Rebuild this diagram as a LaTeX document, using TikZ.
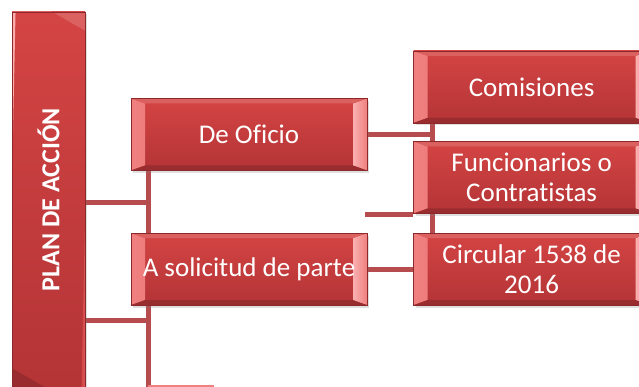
\documentclass[tikz,border=0pt]{standalone}
\usepackage{fontspec}
\setmainfont[Ligatures=NoCommon]{Carlito}
\usetikzlibrary{positioning, calc, shadows, backgrounds}

\definecolor{facetop}{RGB}{212,68,68}
\definecolor{facebottom}{RGB}{180,52,54}
\definecolor{slabedge}{RGB}{140,40,42}
\definecolor{bevlit}{RGB}{240,128,128}
\definecolor{bevglow}{RGB}{250,176,176}
\definecolor{linkred}{RGB}{183,76,78}

\begin{document}
\begin{tikzpicture}[x=1pt, y=-1pt,
    lit bevel/.style = {left color=bevlit, right color=facetop},
    glow bevel/.style = {left color=bevglow, right color=bevlit},
    slab/.style 2 args = {draw=slabedge, line width=0.6pt,
      top color=facetop, bottom color=facebottom,
      minimum width=236pt, minimum height=72pt, inner sep=0pt,
      align=center, text=white, font=\fontsize{27}{30}\selectfont,
      drop shadow={opacity=0.25, shadow xshift=2pt, shadow yshift=-2.5pt},
      path picture={
        \shade[lit bevel]
          (path picture bounding box.north west) -- ++(#1,-#2)
          -- ($(path picture bounding box.south west)+(#1,#2)$)
          -- (path picture bounding box.south west) -- cycle;
        \shade[glow bevel]
          (path picture bounding box.north east) -- ++(-#1,-#2)
          -- ($(path picture bounding box.south east)+(-#1,#2)$)
          -- (path picture bounding box.south east) -- cycle;
        \fill[facetop!85!white]
          (path picture bounding box.north west) -- (path picture bounding box.north east)
          -- ++(-#1,-#2) -- ($(path picture bounding box.north west)+(#1,-#2)$) -- cycle;
        \fill[facebottom!85!black]
          (path picture bounding box.south west) -- (path picture bounding box.south east)
          -- ++(-#1,#2) -- ($(path picture bounding box.south west)+(#1,#2)$) -- cycle;
      }},
    link/.style = {draw=linkred, line width=5pt},
    faint link/.style = {draw=bevlit, line width=1.5pt}
  ]
  \useasboundingbox (0,0) rectangle (639,387);

  \node[slab={21pt}{4pt}, minimum width=375pt, minimum height=73pt, rotate=90,
        lit bevel/.style={left color=bevglow, right color=bevlit},
        glow bevel/.style={left color=facetop, right color=facetop!80!white},
        font=\fontsize{26}{29}\selectfont\bfseries] (plan) at (48.5,199.5) {PLAN DE ACCIÓN};

  \node[slab={14pt}{5pt}] (oficio) at (249,134.5) {De Oficio};
  \node[slab={14pt}{5pt}, below=62pt of oficio] (solicitud) {A solicitud de parte};
  \node[slab={14pt}{5pt}, right=46pt of solicitud] (circular) {Circular 1538 de\\2016};
  \node[slab={14pt}{5pt}, above=19pt of circular] (funcionarios) {Funcionarios o\\Contratistas};
  \node[slab={14pt}{5pt}, above=18pt of funcionarios] (comisiones) {Comisiones};

  \coordinate (trunk) at (148,387);
  \coordinate (branch) at (432,0);
  \coordinate (tap1) at (148,203);
  \coordinate (tap2) at (148,320);
  \coordinate (loose) at (365,215);
  \coordinate (stub) at (214,386);

  \begin{scope}[on background layer]
    \draw[link] (oficio.south -| trunk) -- (trunk);
    \draw[link] (tap1 -| plan.south) -- (tap1);
    \draw[link] (tap2 -| plan.south) -- (tap2);
    \draw[link] (oficio.east) -- (oficio.east -| branch);
    \draw[link] (comisiones.south -| branch) -- (circular.north -| branch);
    \draw[link] (loose) -- (loose -| funcionarios.west);
    \draw[link] (solicitud.east) -- (circular.west);
    \draw[faint link] (stub -| trunk) -- (stub);
  \end{scope}
\end{tikzpicture}
\end{document}
